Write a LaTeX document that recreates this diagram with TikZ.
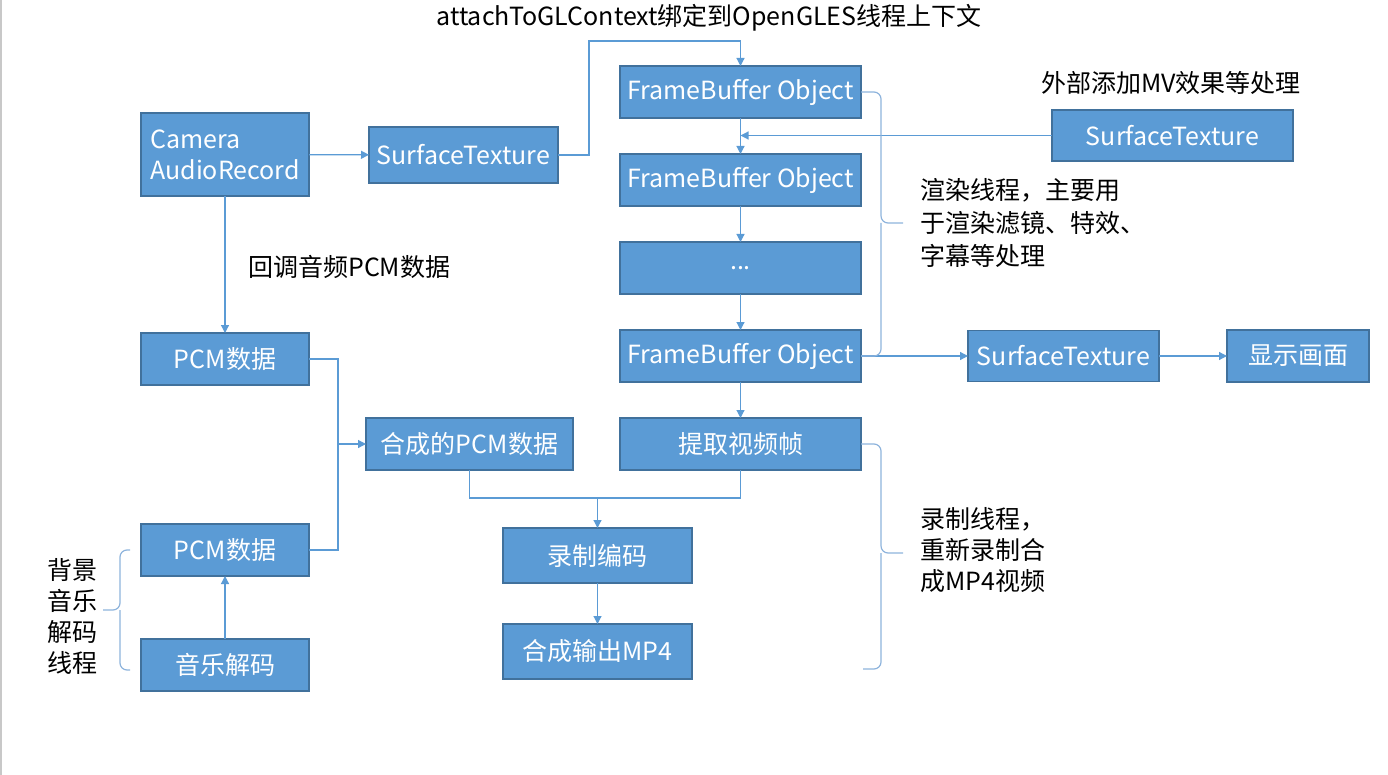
\documentclass[tikz,border=0pt]{standalone}
\usepackage{fontspec}
\setmainfont{Noto Sans CJK SC}
\usepackage{tikz}
\usetikzlibrary{positioning,arrows.meta}
\definecolor{pfblue}{HTML}{5B9BD5}
\definecolor{pfborder}{HTML}{41719C}
\definecolor{pfline}{HTML}{5B9BD5}
\definecolor{pfbrace}{HTML}{8DB3DC}
\definecolor{pfedge}{HTML}{C8C8C8}
\begin{document}
\begin{tikzpicture}[
  x=1pt, y=-1pt,
  font=\fontsize{25}{31}\selectfont,
  node distance=36pt and 60pt,
  box/.style={draw=pfborder, fill=pfblue, text=white, line width=1.2pt, inner sep=0pt, outer sep=0pt, minimum height=52pt},
  flow/.style={-{Triangle[length=8pt, width=8pt]}, line width=1.2pt, draw=pfline},
  plain/.style={line width=1.2pt, draw=pfline},
  bline/.style={line width=1.2pt, draw=pfbrace, rounded corners=7pt},
  lbl/.style={inner sep=0pt, align=left}
]
\useasboundingbox (0,0) rectangle (1388,775);
\draw[pfedge, line width=1.5pt] (1,0) -- (1,775);
% Capture and preview lane
\node[box, minimum width=168pt, minimum height=83pt, align=left] (cam) at (225,154.5) {Camera\\AudioRecord};
\node[box, minimum width=189pt, minimum height=56pt] (st1) at (463.5,155) {SurfaceTexture};
\node[box, minimum width=241pt] (fbo1) at (740.5,92) {FrameBuffer Object};
\node[box, minimum width=241pt, below=of fbo1] (fbo2) {FrameBuffer Object};
\node[box, minimum width=241pt, below=of fbo2] (dots) {...};
\node[box, minimum width=241pt, below=of dots] (fbo3) {FrameBuffer Object};
\node[box, minimum width=241pt, below=of fbo3] (grab) {提取视频帧};
\node[box, minimum width=241pt, minimum height=51pt] (stx) at (1172.5,135.5) {SurfaceTexture};
\node[box, minimum width=191pt, minimum height=51pt, right=107pt of fbo3] (st2) {SurfaceTexture};
\node[box, minimum width=142pt, right=68pt of st2] (show) {显示画面};
% Audio lane
\node[box, minimum width=168pt, below=137pt of cam] (pcm1) {PCM数据};
\node[box, minimum width=207pt] (mix) at (469.5,444) {合成的PCM数据};
\node[box, minimum width=168pt] (pcm2) at (225,550) {PCM数据};
\node[box, minimum width=168pt] (dec) at (225,665) {音乐解码};
\node[box, minimum width=189pt, minimum height=55pt] (enc) at (597.5,555.5) {录制编码};
\node[box, minimum width=189pt, minimum height=55pt, below=41pt of enc] (mp4) {合成输出MP4};
% Free texts
\node[lbl] (attach) at (709,18) {attachToGLContext绑定到OpenGLES线程上下文};
\node[lbl] (mvnote) at (1171,83) {外部添加MV效果等处理};
\node[lbl, anchor=west] (cbnote) at (248,267) {回调音频PCM数据};
\node[lbl, anchor=west, font=\fontsize{25}{33}\selectfont] (rendernote) at (920,223) {渲染线程，主要用\\于渲染滤镜、特效、\\字幕等处理};
\node[lbl, anchor=west] (recnote) at (920,550) {录制线程，\\重新录制合\\成MP4视频};
\node[lbl, anchor=west] (bgmnote) at (47,616) {背景\\音乐\\解码\\线程};
% Coordinates for bends
\coordinate (bindtop) at (589,41);
\coordinate (pcmbus) at (338,444);
\coordinate (encbus) at (597.5,498);
\coordinate (rectip) at (903,553);
\coordinate (recend) at (863,669);
\coordinate (bgmtip) at (103,610);
% Edges
\draw[flow] (cam) -- (st1);
\draw[flow] (st1.east) -| (bindtop) -| (fbo1.north);
\draw[flow] (fbo1) -- (fbo2);
\draw[flow] (stx.west) -- (fbo1.south |- stx.west);
\draw[flow] (fbo2) -- (dots);
\draw[flow] (dots) -- (fbo3);
\draw[flow] (fbo3) -- (grab);
\draw[flow] (fbo3) -- (st2);
\draw[flow] (st2) -- (show);
\draw[flow] (cam) -- (pcm1);
\draw[plain] (pcm1.east) -| (pcmbus) |- (pcm2.east);
\draw[flow] (pcmbus) -- (mix.west);
\draw[flow] (dec) -- (pcm2);
\draw[plain] (mix.south) |- (encbus) -| (grab.south);
\draw[flow] (encbus) -- (enc.north);
\draw[flow] (enc) -- (mp4);
% Braces
\draw[bline] (fbo1.east) -| (881,223) -- (903,223);
\draw[bline] (fbo3.east) -| (881,223);
\draw[bline] (grab.east) -| (881,553) -- (rectip);
\draw[bline] (recend) -| (881,553);
\draw[bline] (pcm2.west -| 130,550) -| (120,610) -- (bgmtip);
\draw[bline] (130,670) -| (120,610);
\end{tikzpicture}
\end{document}
